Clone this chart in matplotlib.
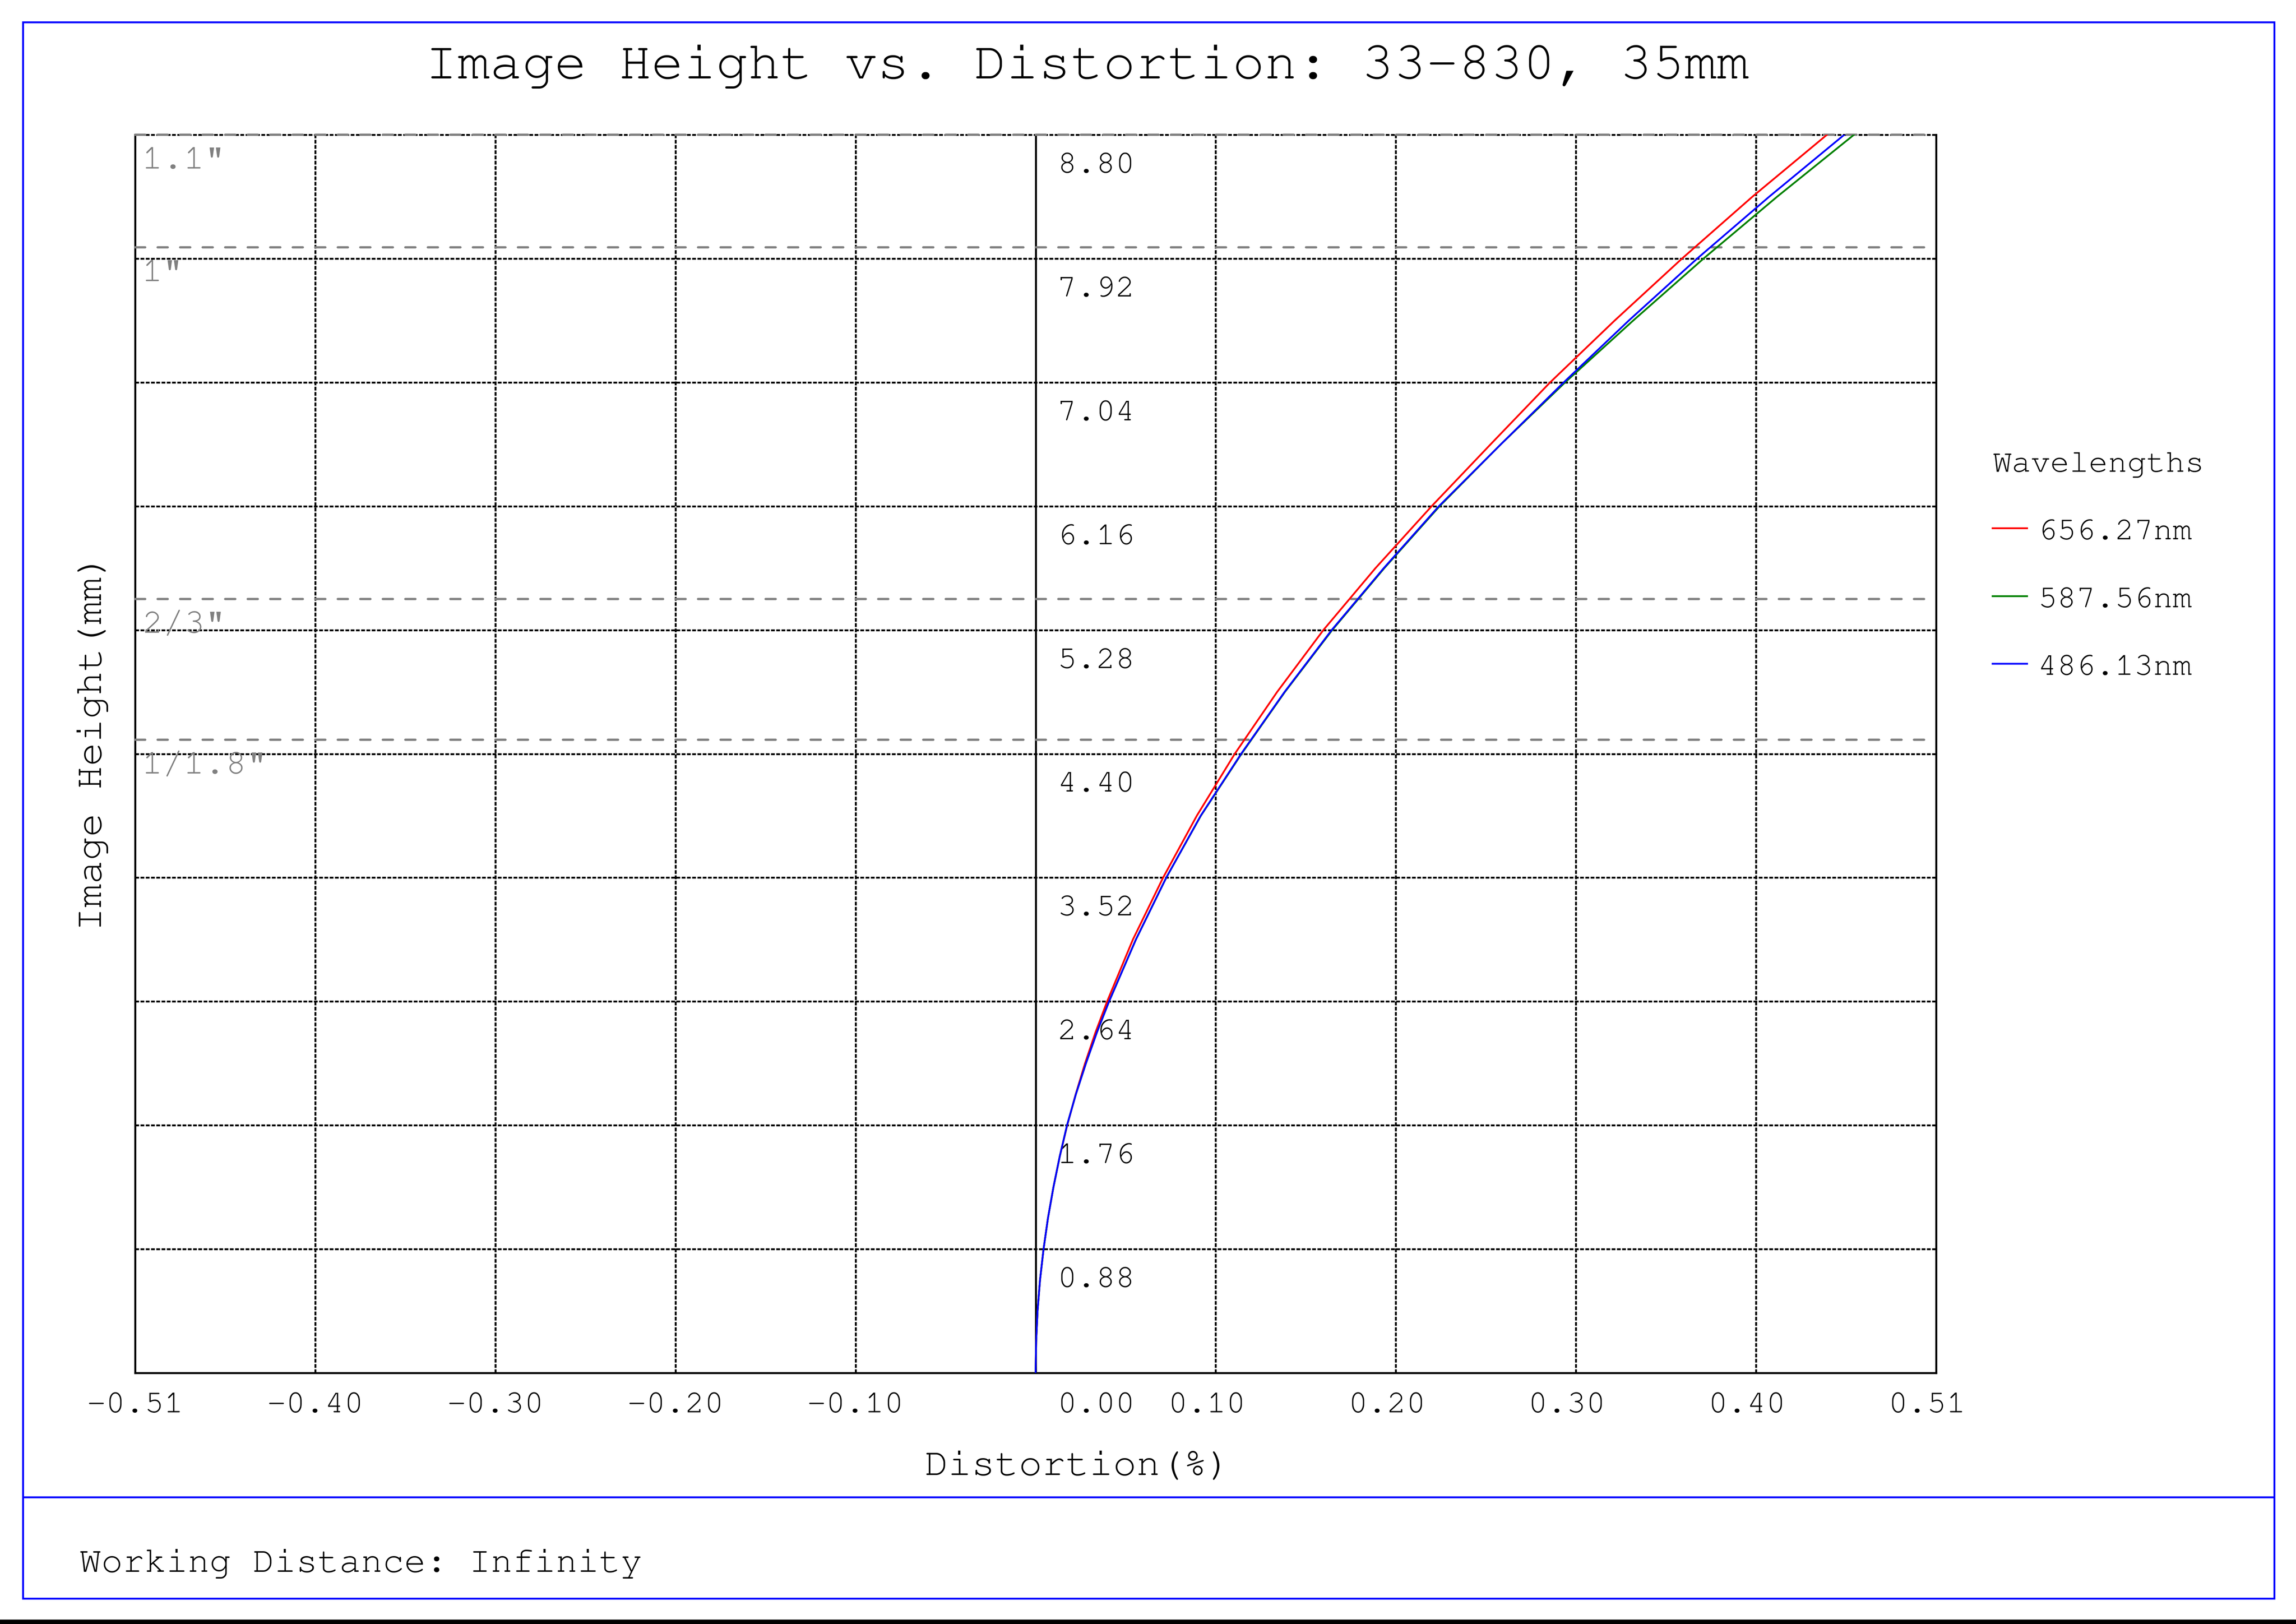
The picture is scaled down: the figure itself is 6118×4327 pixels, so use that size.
import numpy as np
import matplotlib
matplotlib.use('Agg')
import matplotlib.pyplot as plt
from matplotlib import font_manager
from matplotlib.lines import Line2D
from matplotlib.patches import Rectangle

# the source uses a Courier style face; take the closest one that is installed
installed = {f.name for f in font_manager.fontManager.ttflist}
mono = [n for n in ['Courier New', 'Nimbus Mono PS', 'FreeMono', 'TeX Gyre Cursor',
                    'Liberation Mono'] if n in installed]
plt.rcParams['font.family'] = mono[:1] + ['DejaVu Sans Mono']

# image height (mm) and distortion (%)
height_mm = [0.00, 0.22, 0.44, 0.66, 0.88, 1.10, 1.32, 1.54, 1.76, 1.98, 2.20, 2.42, 2.64,
             3.08, 3.52, 3.96, 4.40, 4.84, 5.28, 5.72, 6.16, 6.60, 7.04, 7.48, 7.92, 8.36, 8.80]
dist_656 = [0.0, 0.0003, 0.0011, 0.0025, 0.0045, 0.0070, 0.0101, 0.0137, 0.0179, 0.0227, 0.0280,
            0.0339, 0.0405, 0.0551, 0.0722, 0.0913, 0.1128, 0.1368, 0.1630, 0.1925, 0.2243,
            0.2577, 0.2914, 0.3280, 0.3661, 0.4060, 0.4482]
dist_587 = [0.0, 0.0003, 0.0011, 0.0025, 0.0045, 0.0070, 0.0101, 0.0137, 0.0178, 0.0228, 0.0285,
            0.0347, 0.0416, 0.0568, 0.0740, 0.0936, 0.1166, 0.1412, 0.1680, 0.1975, 0.2288,
            0.2635, 0.2999, 0.3385, 0.3783, 0.4200, 0.4635]
dist_486 = [0.0, 0.0003, 0.0011, 0.0025, 0.0045, 0.0070, 0.0101, 0.0137, 0.0178, 0.0228, 0.0285,
            0.0347, 0.0416, 0.0568, 0.0740, 0.0935, 0.1164, 0.1410, 0.1677, 0.1972, 0.2284,
            0.2635, 0.2991, 0.3360, 0.3747, 0.4155, 0.4580]
wavelengths = ['656.27nm', '587.56nm', '486.13nm']
colors = ['#ff0000', '#008000', '#0000ff']

x_ticks = [-0.51, -0.408, -0.306, -0.204, -0.102, 0.0, 0.102, 0.204, 0.306, 0.408, 0.51]
x_labels = ['-0.51', '-0.40', '-0.30', '-0.20', '-0.10', '0.00', '0.10', '0.20', '0.30', '0.40', '0.51']
y_ticks = [0.0, 0.88, 1.76, 2.64, 3.52, 4.40, 5.28, 6.16, 7.04, 7.92, 8.80]
y_labels = ['', '0.88', '1.76', '2.64', '3.52', '4.40', '5.28', '6.16', '7.04', '7.92', '8.80']

sensor_names = ['1.1"', '1"', '2/3"', '1/1.8"']
sensor_mm = [8.8, 8.0, 5.5, 4.5]

W, H = 6118, 4327
DPI = 400


def fx(px):
    return px / W


def fy(py):
    return 1 - py / H


fig = plt.figure(figsize=(W / DPI, H / DPI), dpi=DPI)
ax = fig.add_axes([fx(360), fy(3658), fx(5159) - fx(360), fy(359) - fy(3658)])
ax.set_xlim(-0.51, 0.51)
ax.set_ylim(0, 8.8)

# grid
ax.set_xticks(x_ticks)
ax.set_yticks(y_ticks)
ax.set_xticklabels([])
ax.set_yticklabels([])
ax.tick_params(length=0)
ax.grid(True, color='black', linewidth=0.9, linestyle=(0, (2.0, 0.8)))
for gl in ax.get_xgridlines() + ax.get_ygridlines():
    gl.set_dash_capstyle('butt')
    gl.set_clip_on(False)
ax.get_xgridlines()[5].set_visible(False)
ax.axvline(0, color='black', linewidth=0.95, zorder=2)

for side in ['left', 'right', 'bottom']:
    ax.spines[side].set_linewidth(0.95)
ax.spines['top'].set_visible(False)

# sensor format lines
for name, v in zip(sensor_names, sensor_mm):
    ax.axhline(v, color='#808080', linewidth=1.08, linestyle=(0, (4.5, 5.5)),
               dash_capstyle='round', zorder=3, clip_on=False)
    ax.annotate(name, xy=(0, v), xycoords=('axes fraction', 'data'),
                xytext=(18, -90), textcoords='offset pixels',
                ha='left', va='baseline', color='#808080', fontsize=16.8)

# curves
lines = []
for dist, lab, c in zip([dist_656, dist_587, dist_486], wavelengths, colors):
    ln, = ax.plot(dist, height_mm, color=c, linewidth=0.85, label=lab, zorder=4)
    lines.append(ln)
lines[2].set_zorder(5)

# tick labels, placed the way the source places them
for xv, lab in zip(x_ticks, x_labels):
    if xv == 0.0:
        ax.annotate(lab, xy=(0, 0), xycoords=('data', 'axes fraction'),
                    xytext=(58, -105), textcoords='offset pixels',
                    ha='left', va='baseline', fontsize=15.5)
    else:
        dx = -24 if xv > 0 else 0
        ax.annotate(lab, xy=(xv, 0), xycoords=('data', 'axes fraction'),
                    xytext=(dx, -105), textcoords='offset pixels',
                    ha='center', va='baseline', fontsize=15.5)
for yv, lab in zip(y_ticks, y_labels):
    if lab:
        ax.annotate(lab, xy=(0, yv), xycoords='data',
                    xytext=(58, -101), textcoords='offset pixels',
                    ha='left', va='baseline', fontsize=15.5)

fig.text(fx(2897), fy(209), 'Image Height vs. Distortion: 33-830, 35mm',
         ha='center', va='baseline', fontsize=25.8)
fig.text(fx(2872), fy(3930), 'Distortion(%)', ha='center', va='baseline', fontsize=18.85)
fig.text(fx(270), fy(1977), 'Image Height(mm)', ha='center', va='baseline',
         rotation=90, rotation_mode='anchor', fontsize=18.85)
fig.text(fx(212), fy(4188), 'Working Distance: Infinity', ha='left', va='baseline', fontsize=17.3)

leg = ax.legend(handles=lines, title='Wavelengths', loc='upper left',
                bbox_to_anchor=(fx(5309), fy(1205)), bbox_transform=fig.transFigure,
                frameon=False, borderpad=0, borderaxespad=0, handlelength=1.08,
                handletextpad=0.34, labelspacing=1.22, alignment='left',
                fontsize=15.4, title_fontsize=15.4)

# blue frame and bottom bar
frame = dict(color='#0000ff', linewidth=0.9)
fig.add_artist(Line2D([fx(61), fx(6060)], [fy(59), fy(59)], **frame))
fig.add_artist(Line2D([fx(61), fx(6060)], [fy(3989), fy(3989)], **frame))
fig.add_artist(Line2D([fx(61), fx(6060)], [fy(4259), fy(4259)], **frame))
fig.add_artist(Line2D([fx(61), fx(61)], [fy(59), fy(4259)], **frame))
fig.add_artist(Line2D([fx(6060), fx(6060)], [fy(59), fy(4259)], **frame))
fig.add_artist(Rectangle((0, 0), 1, 9 / H, transform=fig.transFigure, color='black'))

fig.savefig('out.png', dpi=DPI)
